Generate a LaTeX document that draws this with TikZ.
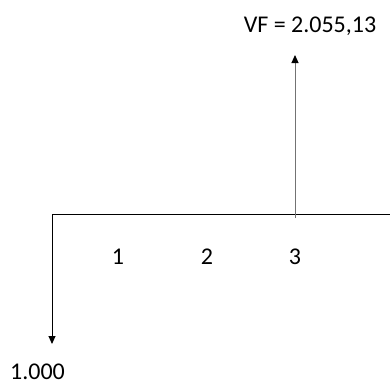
\documentclass[tikz,border=0pt]{standalone}
\usepackage{fontspec}
\setmainfont{Carlito}
\usepackage{tikz}
\usetikzlibrary{positioning,arrows.meta,calc}

\begin{document}
\begin{tikzpicture}[x=1pt,y=1pt,
    flow/.style={line width=1pt, -{Triangle[length=8pt,width=7pt,black]}},
    lbl/.style={anchor=base, inner sep=0pt, font=\fontsize{24}{28}\selectfont}]
    \useasboundingbox (0,0) rectangle (390,384);
    % time line
    \coordinate (t0) at (52,170);
    \coordinate (tend) at (390,170);
    \coordinate (t3) at (295,166);
    \draw[line width=1pt] (t0) -- (tend);
    % cash flows
    \coordinate (pv) at (52,40);
    \coordinate (fv) at (295,329);
    \draw[flow] (t0) -- (pv);
    \draw[flow, draw=black!55] (t3) -- (fv);
    % labels
    \node[lbl] (n1) at (118,120) {1};
    \node[lbl] (n2) at (207,120) {2};
    \node[lbl] (n3) at (295,120) {3};
    \node[lbl] (vf) at (310,352) {VF = 2.055,13};
    \node[lbl] (vp) at (37.5,5) {1.000};
\end{tikzpicture}
\end{document}
